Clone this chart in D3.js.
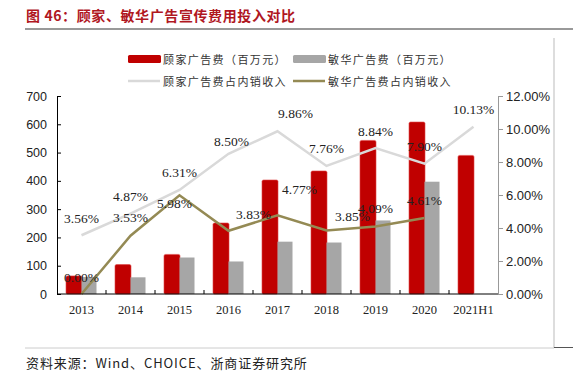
<!DOCTYPE html>
<html>
<head>
<meta charset="utf-8">
<script src="https://cdn.jsdelivr.net/npm/d3@7"></script>
<style>
  body { margin: 0; background: #fff; }
  svg { display: block; }
</style>
</head>
<body>
<svg></svg>
<script>
// 数据
const years = ["2013", "2014", "2015", "2016", "2017", "2018", "2019", "2020", "2021H1"];
const gujiaAd = [64, 104, 140, 251, 403, 435, 543, 608, 490];
const minhuaAd = [60, 59, 129, 115, 185, 182, 260, 397];
const gujiaRatio = [3.56, 4.87, 6.31, 8.5, 9.86, 7.76, 8.84, 7.9, 10.13];
const minhuaRatio = [0.0, 3.53, 5.98, 3.83, 4.77, 3.85, 4.09, 4.61];
const leftTicks = [0, 100, 200, 300, 400, 500, 600, 700];
const rightTicks = [0, 2, 4, 6, 8, 10, 12];

// 标签微调（布局用，单位 px）
const gujiaShift = [[0, -17], [0, -17], [0, -17], [3, -12], [18, -18], [0, -17], [0, -17], [0, -17], [0, -17]];
const minhuaShift = [[0, -17], [0, -18], [-5, 8], [25, -16], [22, -26], [26, -14], [0, -18], [0, -17]];

const W = 584, H = 375;
const plot = { left: 57, right: 498, top: 96, bottom: 294 };

const svg = d3.select("svg").attr("width", W).attr("height", H);

const cjk = "'Noto Sans CJK SC', sans-serif";
const serif = "'Liberation Serif', 'Times New Roman', serif";
const sans = "'Liberation Sans', Arial, sans-serif";

// 标题
svg.append("text")
  .attr("x", 26).attr("y", 15)
  .attr("dominant-baseline", "central")
  .attr("fill", "#b0171f")
  .attr("font-family", cjk)
  .attr("font-weight", "bold")
  .attr("font-size", 14)
  .attr("letter-spacing", 0.6)
  .text("图 46：顾家、敏华广告宣传费用投入对比");

svg.append("line")
  .attr("x1", 25).attr("x2", 573).attr("y1", 29).attr("y2", 29)
  .attr("stroke", "#777").attr("stroke-width", 1.5);

// 边框
svg.append("line")
  .attr("x1", 554).attr("x2", 554).attr("y1", 38).attr("y2", 348)
  .attr("stroke", "#bbb").attr("stroke-width", 1);
svg.append("line")
  .attr("x1", 25).attr("x2", 554).attr("y1", 348).attr("y2", 348)
  .attr("stroke", "#ccc").attr("stroke-width", 1);
svg.append("line")
  .attr("x1", 554).attr("x2", 573).attr("y1", 347.5).attr("y2", 347.5)
  .attr("stroke", "#555").attr("stroke-width", 1);

// 比例尺
const x = d3.scaleBand().domain(years).range([plot.left, plot.right]);
const yL = d3.scaleLinear().domain([0, 700]).range([plot.bottom, plot.top]);
const yR = d3.scaleLinear().domain([0, 12]).range([plot.bottom, plot.top]);
const barW = 15;
const cx = (d) => x(d) + x.bandwidth() / 2;

// 柱子
const g = svg.append("g");
g.selectAll(".bar-gj")
  .data(gujiaAd)
  .join("rect")
  .attr("class", "bar-gj")
  .attr("x", (d, i) => cx(years[i]) - barW - 0.5)
  .attr("y", (d) => yL(d))
  .attr("width", barW + 1)
  .attr("height", (d) => yL(0) - yL(d))
  .attr("rx", 1.5)
  .attr("fill", "#c00000")
  .attr("stroke", "#d44")
  .attr("stroke-width", 0.6);

g.selectAll(".bar-mh")
  .data(minhuaAd)
  .join("rect")
  .attr("class", "bar-mh")
  .attr("x", (d, i) => cx(years[i]))
  .attr("y", (d) => yL(d))
  .attr("width", barW)
  .attr("height", (d) => yL(0) - yL(d))
  .attr("fill", "#a6a6a6");

// 折线
const lineGen = d3.line().x((d, i) => cx(years[i])).y((d) => yR(d));
g.append("path")
  .datum(gujiaRatio)
  .attr("d", lineGen)
  .attr("fill", "none")
  .attr("stroke", "#d9d9d9")
  .attr("stroke-width", 2.5);

g.append("path")
  .datum(minhuaRatio)
  .attr("d", lineGen)
  .attr("fill", "none")
  .attr("stroke", "#948a54")
  .attr("stroke-width", 2.5);

// 坐标轴
const axL = svg.append("g")
  .attr("transform", `translate(${plot.left},0)`)
  .call(d3.axisLeft(yL).tickValues(leftTicks).tickSizeInner(-4).tickSizeOuter(0).tickPadding(10));
axL.select(".domain").attr("stroke", "#000");
axL.selectAll(".tick line").attr("stroke", "#000");
axL.selectAll(".tick text").attr("font-family", sans).attr("font-size", 12.5).attr("fill", "#222");

const axR = svg.append("g")
  .attr("transform", `translate(${plot.right},0)`)
  .call(d3.axisRight(yR).tickValues(rightTicks).tickSizeInner(5).tickSizeOuter(0).tickPadding(3)
    .tickFormat((d) => d.toFixed(2) + "%"));
axR.select(".domain").attr("stroke", "#999");
axR.selectAll(".tick line").attr("stroke", "#999");
axR.selectAll(".tick text").attr("font-family", sans).attr("font-size", 13).attr("fill", "#222");

const axB = svg.append("g").attr("transform", `translate(0,${plot.bottom})`);
axB.append("line")
  .attr("x1", plot.left).attr("x2", plot.right)
  .attr("stroke", "#000");
axB.selectAll(".btick")
  .data(years.slice(1))
  .join("line")
  .attr("class", "btick")
  .attr("x1", (d) => x(d)).attr("x2", (d) => x(d))
  .attr("y1", 0).attr("y2", -4)
  .attr("stroke", "#000");
axB.selectAll(".blabel")
  .data(years)
  .join("text")
  .attr("class", "blabel")
  .attr("x", (d) => cx(d))
  .attr("y", 16)
  .attr("text-anchor", "middle")
  .attr("dominant-baseline", "central")
  .attr("font-family", serif)
  .attr("font-size", 12.5)
  .attr("fill", "#222")
  .text((d) => d);

// 数据标签
function addLabels(values, shift) {
  g.selectAll(null)
    .data(values)
    .join("text")
    .attr("x", (d, i) => cx(years[i]) + shift[i][0])
    .attr("y", (d) => yR(d))
    .attr("dy", (d, i) => shift[i][1])
    .attr("text-anchor", "middle")
    .attr("dominant-baseline", "central")
    .attr("font-family", serif)
    .attr("font-size", 13.5)
    .attr("fill", "#222")
    .text((d) => d.toFixed(2) + "%");
}
addLabels(gujiaRatio, gujiaShift);
addLabels(minhuaRatio, minhuaShift);

// 图例
const legend = [
  { label: "顾家广告费（百万元）", type: "rect", color: "#c00000", x: 128, y: 59 },
  { label: "敏华广告费（百万元）", type: "rect", color: "#a6a6a6", x: 293, y: 59 },
  { label: "顾家广告费占内销收入", type: "line", color: "#d9d9d9", x: 128, y: 81 },
  { label: "敏华广告费占内销收入", type: "line", color: "#948a54", x: 293, y: 81 },
];
const lg = svg.append("g")
  .selectAll("g")
  .data(legend)
  .join("g")
  .attr("transform", (d) => `translate(${d.x},${d.y})`);
lg.filter((d) => d.type === "rect")
  .append("rect")
  .attr("x", 0).attr("y", -4).attr("width", 33).attr("height", 8)
  .attr("rx", 1.5)
  .attr("fill", (d) => d.color);
lg.filter((d) => d.type === "line")
  .append("line")
  .attr("x1", 0).attr("x2", 32)
  .attr("stroke", (d) => d.color)
  .attr("stroke-width", 2.5);
lg.append("text")
  .attr("x", 35)
  .attr("dominant-baseline", "central")
  .attr("font-family", cjk)
  .attr("font-size", 11)
  .attr("letter-spacing", 1.4)
  .attr("fill", "#333")
  .text((d) => d.label);

// 资料来源
svg.append("text")
  .attr("x", 26).attr("y", 362)
  .attr("dominant-baseline", "central")
  .attr("font-family", cjk)
  .attr("font-size", 13)
  .attr("letter-spacing", 0.9)
  .attr("fill", "#222")
  .text("资料来源：Wind、CHOICE、浙商证券研究所");
</script>
</body>
</html>
